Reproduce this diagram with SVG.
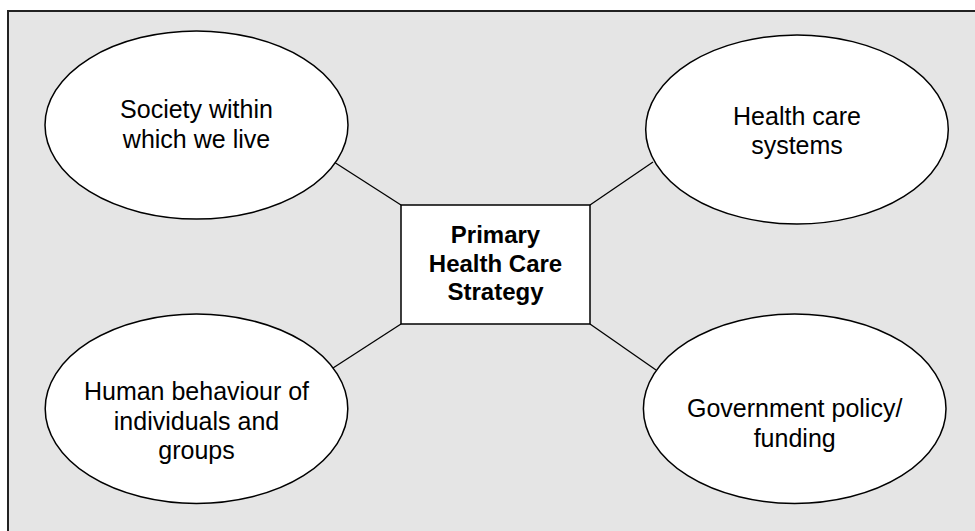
<svg xmlns="http://www.w3.org/2000/svg" width="975" height="531" viewBox="0 0 975 531">
  <style>
    .frame { fill: #e5e5e5; stroke: #222; stroke-width: 2; }
    .ell { fill: #fff; stroke: #000; stroke-width: 1.5; }
    .box { fill: #fff; stroke: #000; stroke-width: 1.5; }
    .lbl { font-family: "Liberation Sans", Arial, sans-serif; font-size: 25px; fill: #000; text-anchor: middle; }
    .bold { font-size: 24px; font-weight: bold; }
    .link { stroke: #000; stroke-width: 1.3; fill: none; }
  </style>
  <rect class="frame" x="8" y="11" width="980" height="540"/>
  <g id="connectors">
    <line class="link" x1="401" y1="205" x2="334" y2="162"/>
    <line class="link" x1="590" y1="205" x2="653" y2="162"/>
    <line class="link" x1="401" y1="324" x2="333" y2="368"/>
    <line class="link" x1="590" y1="324" x2="656" y2="370"/>
  </g>
  <g id="society">
    <ellipse class="ell" cx="196.5" cy="125" rx="151.5" ry="94"/>
    <text class="lbl" x="196.5" y="118">Society within</text>
    <text class="lbl" x="196.5" y="148">which we live</text>
  </g>
  <g id="health-systems">
    <ellipse class="ell" cx="797" cy="129.5" rx="151.3" ry="94.5"/>
    <text class="lbl" x="797" y="125">Health care</text>
    <text class="lbl" x="797" y="154">systems</text>
  </g>
  <g id="behaviour">
    <ellipse class="ell" cx="196.5" cy="408.7" rx="151.3" ry="94.7"/>
    <text class="lbl" x="196.5" y="400">Human behaviour of</text>
    <text class="lbl" x="196.5" y="430">individuals and</text>
    <text class="lbl" x="196.5" y="459">groups</text>
  </g>
  <g id="government">
    <ellipse class="ell" cx="794.7" cy="408.7" rx="151.3" ry="94.7"/>
    <text class="lbl" x="794.7" y="416.5">Government policy/</text>
    <text class="lbl" x="794.7" y="446.5">funding</text>
  </g>
  <g id="strategy">
    <rect class="box" x="401" y="205" width="189" height="119"/>
    <text class="lbl bold" x="495.5" y="243">Primary</text>
    <text class="lbl bold" x="495.5" y="272">Health Care</text>
    <text class="lbl bold" x="495.5" y="300">Strategy</text>
  </g>
</svg>
